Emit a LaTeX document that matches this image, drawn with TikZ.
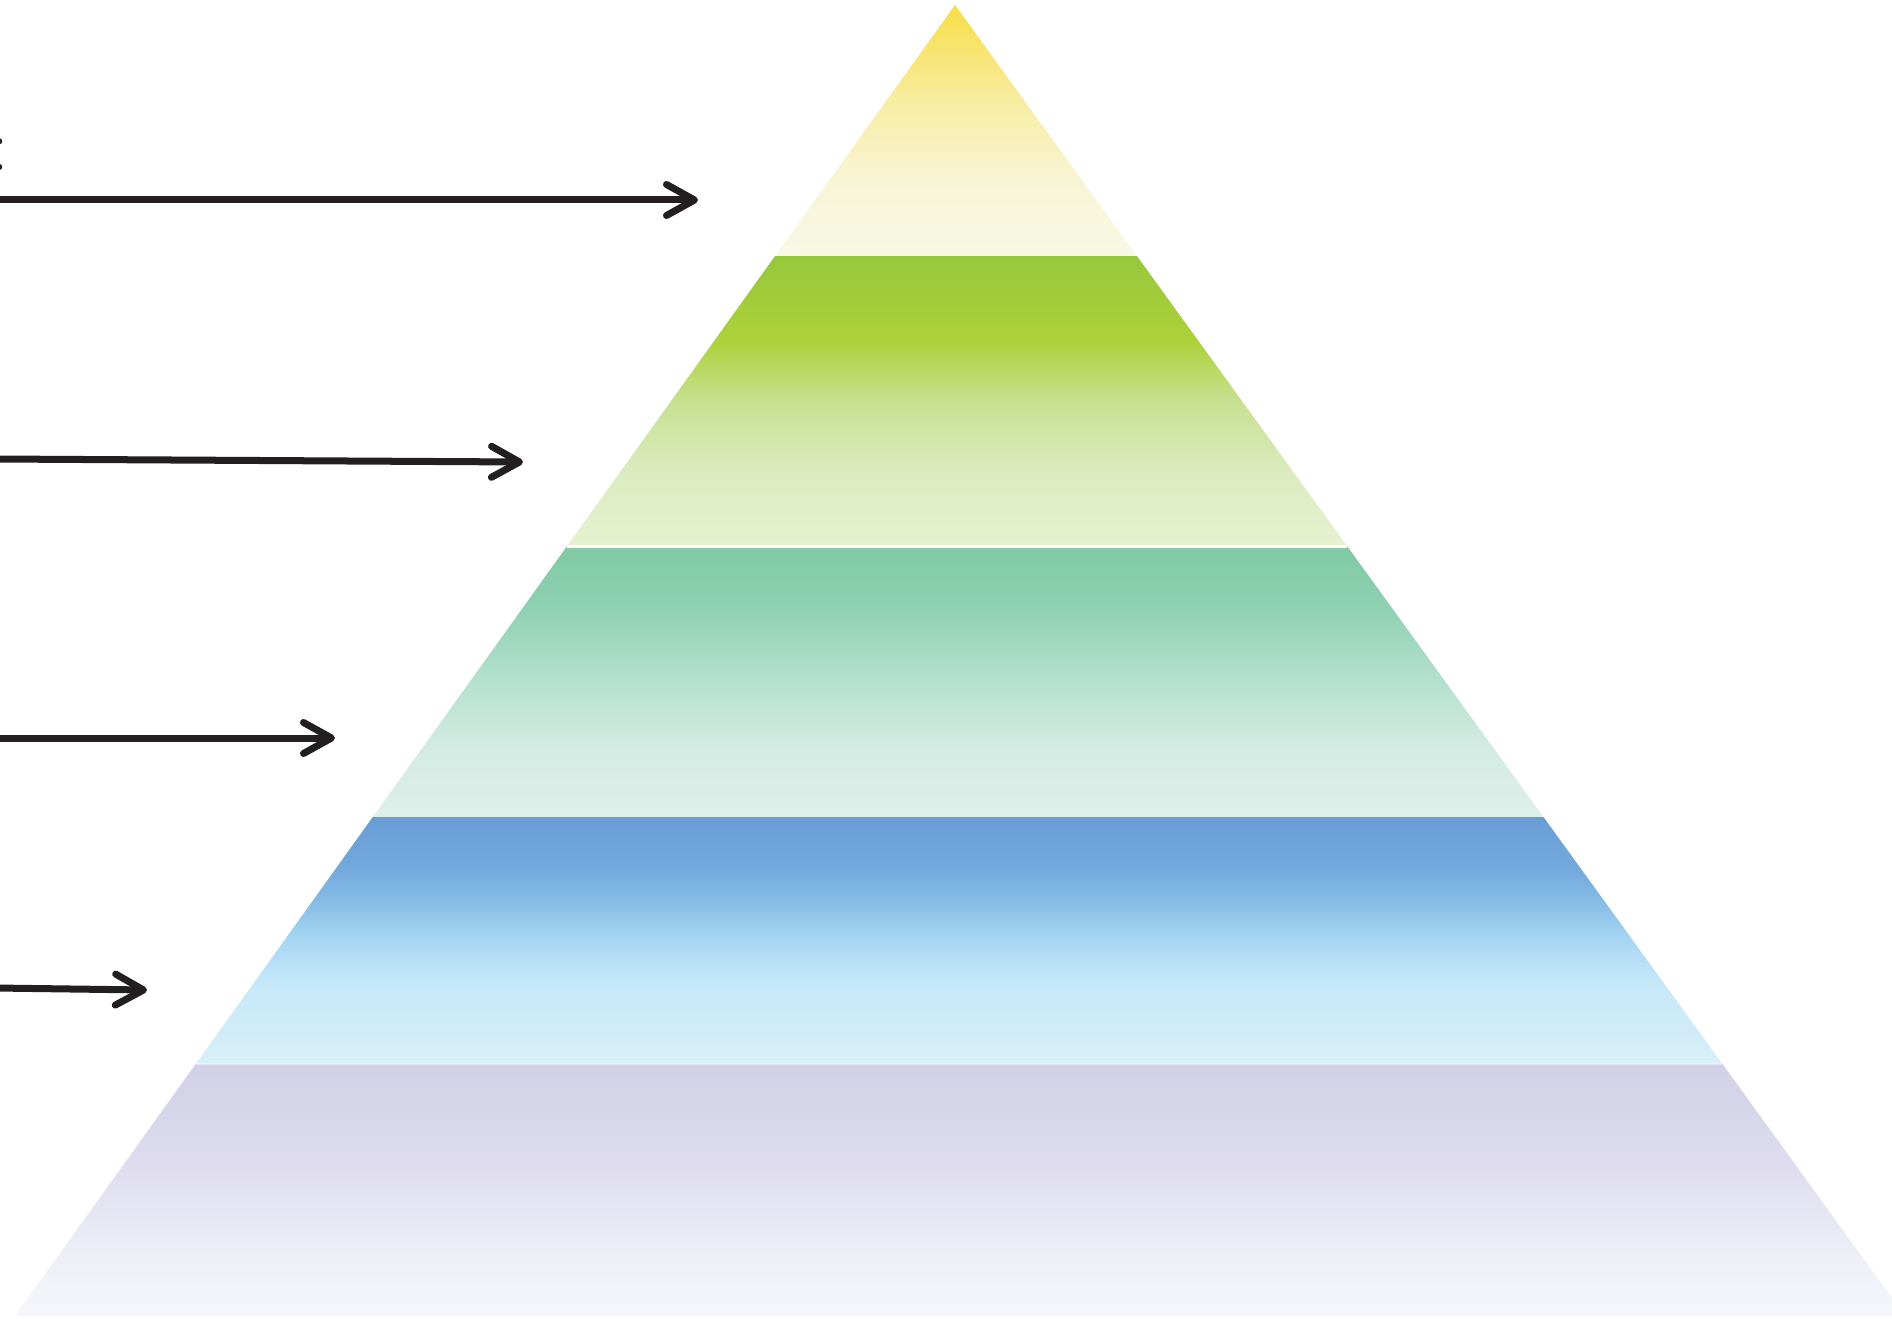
\documentclass[tikz,border=0pt]{standalone}
\usepackage{tikz}
\usetikzlibrary{
    arrows.meta,
    calc
}
\definecolor{arrowInk}{RGB}{35,31,32}
\definecolor{yelTop}{HTML}{F7DE45}
\definecolor{yelMid}{HTML}{F8EDA6}
\definecolor{yelLow}{HTML}{F8F5D6}
\definecolor{yelBot}{HTML}{F8F8E5}
\definecolor{grnTop}{HTML}{96C83C}
\definecolor{grnHi}{HTML}{ADD13A}
\definecolor{grnMid}{HTML}{C8E092}
\definecolor{grnLow}{HTML}{DCEBC0}
\definecolor{grnBot}{HTML}{E7F1D0}
\definecolor{tealTop}{HTML}{80CAA4}
\definecolor{tealHi}{HTML}{8CCFB1}
\definecolor{tealMid}{HTML}{B1DFCC}
\definecolor{tealLow}{HTML}{D2EBE2}
\definecolor{tealBot}{HTML}{DEF0EA}
\definecolor{bluTop}{HTML}{679DD3}
\definecolor{bluHi}{HTML}{73A9DC}
\definecolor{bluMid}{HTML}{8ABFE7}
\definecolor{bluSky}{HTML}{A7D7F2}
\definecolor{bluLow}{HTML}{C6E8F9}
\definecolor{bluBot}{HTML}{D8EFF7}
\definecolor{purTop}{HTML}{D2D0E6}
\definecolor{purMid}{HTML}{DEDCEE}
\definecolor{purLow}{HTML}{ECECF6}
\definecolor{purBot}{HTML}{F6F7FB}

% vertical shadings, 25bp = bottom of band, 75bp = top of band
\pgfdeclareverticalshading{shYellow}{100bp}{color(0bp)=(yelBot); color(25bp)=(yelBot);
  color(40bp)=(yelLow); color(55bp)=(yelMid); color(75bp)=(yelTop); color(100bp)=(yelTop)}
\pgfdeclareverticalshading{shGreen}{100bp}{color(0bp)=(grnBot); color(25bp)=(grnBot);
  color(37.5bp)=(grnLow); color(50bp)=(grnMid); color(60.5bp)=(grnHi); color(75bp)=(grnTop); color(100bp)=(grnTop)}
\pgfdeclareverticalshading{shTeal}{100bp}{color(0bp)=(tealBot); color(25bp)=(tealBot);
  color(38.5bp)=(tealLow); color(51.5bp)=(tealMid); color(65bp)=(tealHi); color(75bp)=(tealTop); color(100bp)=(tealTop)}
\pgfdeclareverticalshading{shBlue}{100bp}{color(0bp)=(bluBot); color(25bp)=(bluBot);
  color(41.5bp)=(bluLow); color(50bp)=(bluSky); color(57bp)=(bluMid); color(64.5bp)=(bluHi); color(75bp)=(bluTop); color(100bp)=(bluTop)}
\pgfdeclareverticalshading{shPurple}{100bp}{color(0bp)=(purBot); color(25bp)=(purBot);
  color(40bp)=(purLow); color(55bp)=(purMid); color(75bp)=(purTop); color(100bp)=(purTop)}

\tikzset{
  arr/.style   = {-{Straight Barb[length=0.28cm, width=0.31cm, line cap=round, line join=round]},
                  line width=0.07cm, arrowInk},
  gapline/.style = {white, line width=0.025cm},
  frag/.style  = {inner sep=0pt, anchor=base west, font=\fontsize{21}{24}\selectfont, arrowInk}
}

\begin{document}
\begin{tikzpicture}[x=0.01cm, y=-0.01cm]
  \useasboundingbox (0,0) rectangle (1892,1319);

  \coordinate (apex) at (955,5);
  \coordinate (bl) at (15,1316);
  \coordinate (br) at (1905,1316);

  % band boundaries
  \foreach \i/\t in {1/0.1915, 2/0.4130, 3/0.6194, 4/0.8078} {
    \coordinate (L\i) at ($(apex)!\t!(bl)$);
    \coordinate (R\i) at ($(apex)!\t!(br)$);
  }

  \path[shading=shYellow] (apex) -- (R1) -- (L1) -- cycle;
  \path[shading=shGreen]  (L1) -- (R1) -- (R2) -- (L2) -- cycle;
  \path[shading=shTeal]   (L2) -- (R2) -- (R3) -- (L3) -- cycle;
  \path[shading=shBlue]   (L3) -- (R3) -- (R4) -- (L4) -- cycle;
  \path[shading=shPurple] (L4) -- (R4) -- (br) -- (bl) -- cycle;

  \draw[gapline] (L2) -- (R2);
  \draw[gapline, opacity=0.4] (L4) -- (R4);

  \node[frag] (lbl) at (-10,171) {:};

  \coordinate (a1s) at (-5,200);   \coordinate (a1e) at (698,200);
  \coordinate (a2s) at (-5,459);   \coordinate (a2e) at (523,462);
  \coordinate (a3s) at (-5,738);   \coordinate (a3e) at (335,738);
  \coordinate (a4s) at (-5,988);   \coordinate (a4e) at (147,990);

  \draw[arr] (a1s) -- (a1e);
  \draw[arr] (a2s) -- (a2e);
  \draw[arr] (a3s) -- (a3e);
  \draw[arr] (a4s) -- (a4e);
\end{tikzpicture}
\end{document}
